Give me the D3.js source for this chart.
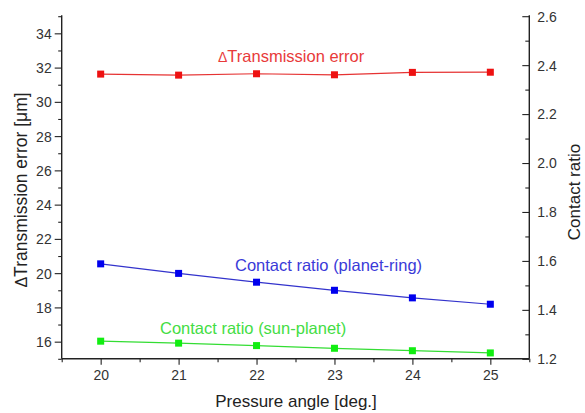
<!DOCTYPE html>
<html>
<head>
<meta charset="utf-8">
<script src="https://cdn.jsdelivr.net/npm/d3@7"></script>
<style>
  html, body { margin: 0; padding: 0; background: #fff; }
  svg { display: block; font-family: Arial, "Liberation Sans", sans-serif; }
</style>
</head>
<body>
<svg id="chart" width="585" height="413"></svg>
<script>
const angles = [20, 21, 22, 23, 24, 25];
const transmissionError = [31.62, 31.56, 31.64, 31.58, 31.72, 31.73];
const crPlanetRing = [1.588, 1.549, 1.513, 1.480, 1.449, 1.423];
const crSunPlanet = [1.272, 1.264, 1.254, 1.243, 1.233, 1.224];
const leftTicks = [16, 18, 20, 22, 24, 26, 28, 30, 32, 34];
const rightTicks = [1.2, 1.4, 1.6, 1.8, 2.0, 2.2, 2.4, 2.6];
const xTicks = [20, 21, 22, 23, 24, 25];

const svg = d3.select("#chart");
const x = d3.scaleLinear().domain([19.5, 25.5]).range([61.7, 529.3]);
const yL = d3.scaleLinear().domain([15, 35]).range([358.8, 16.2]);
const yR = d3.scaleLinear().domain([1.2, 2.6]).range([358.8, 16.2]);

const axisColor = "#222";
const labelColor = "#333";

// Left axis
const gL = svg.append("g").attr("transform", `translate(${x.range()[0]},0)`);
gL.call(d3.axisLeft(yL).tickValues(d3.range(15, 35.01, 1)).tickSize(3.5).tickFormat(""));
gL.call(g => g.selectAll(".tick").filter(d => leftTicks.includes(d)).select("line").attr("x2", -7));
gL.selectAll(".tick").filter(d => leftTicks.includes(d)).append("text")
  .attr("x", -10).attr("dy", "0.35em").attr("text-anchor", "end")
  .text(d => d);
gL.select(".domain").attr("d", `M0,${yL.range()[1] - 1}V${yL.range()[0]}`);

// Right axis (ticks point inward)
const gR = svg.append("g").attr("transform", `translate(${x.range()[1]},0)`);
gR.call(d3.axisRight(yR).tickValues(d3.range(12, 26.01, 1).map(v => v / 10)).tickSize(-4).tickFormat(""));
gR.call(g => g.selectAll(".tick").filter(d => rightTicks.some(t => Math.abs(t - d) < 1e-6)).select("line").attr("x2", -7));
gR.selectAll(".tick").filter(d => rightTicks.some(t => Math.abs(t - d) < 1e-6)).append("text")
  .attr("x", 8).attr("dy", "0.35em").attr("text-anchor", "start")
  .text(d => d3.format(".1f")(d));
gR.select(".domain").attr("d", `M0,${yR.range()[1] - 1}V${yR.range()[0]}`);

// Bottom axis
const gB = svg.append("g").attr("transform", `translate(0,${yL.range()[0]})`);
gB.call(d3.axisBottom(x).tickValues(d3.range(19.5, 25.51, 0.5)).tickSize(3.5).tickFormat(""));
gB.call(g => g.selectAll(".tick").filter(d => xTicks.includes(d)).select("line").attr("y2", 6));
gB.selectAll(".tick").filter(d => xTicks.includes(d)).append("text")
  .attr("y", 21).attr("text-anchor", "middle")
  .text(d => d);
gB.select(".domain").attr("d", `M${x.range()[0]},0H${x.range()[1]}`);

svg.selectAll(".domain").attr("stroke", axisColor).attr("stroke-width", 1.4);
svg.selectAll(".tick line").attr("stroke", axisColor).attr("stroke-width", 1.1);
svg.selectAll(".tick text").attr("fill", labelColor).attr("font-size", 14)
  .attr("font-family", "Arial, 'Liberation Sans', sans-serif");

// Series
const series = [
  { vals: transmissionError, scale: yL, color: "#ee1111", line: "#e63333" },
  { vals: crPlanetRing, scale: yR, color: "#0000ee", line: "#3333cc" },
  { vals: crSunPlanet, scale: yR, color: "#11ee11", line: "#33dd33" }
];
series.forEach(s => {
  const pts = angles.map((a, i) => [a, s.vals[i]]);
  svg.append("path").datum(pts)
    .attr("fill", "none").attr("stroke", s.line).attr("stroke-width", 1.2)
    .attr("d", d3.line().x(d => x(d[0])).y(d => s.scale(d[1])));
  svg.append("g").selectAll("rect").data(pts).join("rect")
    .attr("x", d => x(d[0]) - 3.5).attr("y", d => s.scale(d[1]) - 3.5)
    .attr("width", 7).attr("height", 7).attr("fill", s.color);
});

// Series labels
const teLabel = svg.append("text").attr("x", 218).attr("y", 62)
  .attr("fill", "#e83a3a").attr("font-size", 16.5);
teLabel.append("tspan").attr("font-size", 14).text("\u0394");
teLabel.append("tspan").text("Transmission error");

svg.append("text").attr("x", 235).attr("y", 270.5)
  .attr("fill", "#3a3ad8").attr("font-size", 16.5).text("Contact ratio (planet-ring)");
svg.append("text").attr("x", 160).attr("y", 333.5)
  .attr("fill", "#44dd44").attr("font-size", 16.5).text("Contact ratio (sun-planet)");

// Axis titles
svg.append("text").attr("x", 296).attr("y", 406.5).attr("text-anchor", "middle")
  .attr("fill", axisColor).attr("font-size", 17).text("Pressure angle [deg.]");

const lt = svg.append("text").attr("transform", "translate(27,190) rotate(-90)")
  .attr("text-anchor", "middle").attr("fill", axisColor).attr("font-size", 17.5);
lt.append("tspan").attr("font-size", 16).text("\u0394");
lt.append("tspan").text("Transmission error [\u03bcm]");

svg.append("text").attr("transform", "translate(579.5,192) rotate(-90)")
  .attr("text-anchor", "middle").attr("fill", axisColor).attr("font-size", 17).text("Contact ratio");
</script>
</body>
</html>
